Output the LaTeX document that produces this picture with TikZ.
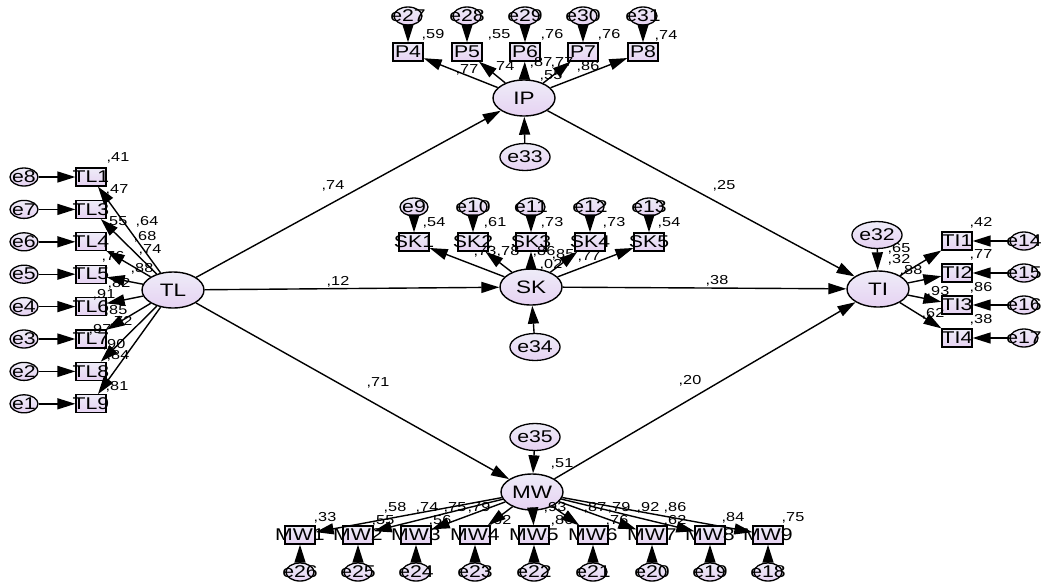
\documentclass[tikz,border=0pt]{standalone}
\usepackage{fontspec}
\newfontfamily\amos[FakeStretch=1.25]{Liberation Sans}
\usetikzlibrary{shapes.geometric,arrows.meta}
\definecolor{lavtop}{RGB}{238,236,248}
\definecolor{lavbot}{RGB}{230,210,242}
\tikzset{
  nodefill/.style={top color=lavtop, bottom color=lavbot, draw=black},
  lat/.style={ellipse, nodefill, line width=1.4pt, minimum width=62pt, minimum height=36pt, inner sep=0pt, font=\amos\fontsize{18}{18}\selectfont},
  err/.style={ellipse, nodefill, line width=1.3pt, minimum width=45pt, minimum height=27pt, inner sep=0pt, font=\amos\fontsize{17}{17}\selectfont},
  smalltxt/.style={font=\amos\fontsize{17}{17}\selectfont, inner sep=0pt},
  serr/.style={ellipse, nodefill, line width=1.3pt, minimum width=28pt, minimum height=18pt, inner sep=0pt, label={[smalltxt]center:#1}},
  obs/.style={rectangle, nodefill, line width=1.3pt, minimum width=30pt, minimum height=18pt, inner sep=0pt, label={[smalltxt]center:#1}},
  lab/.style={font=\amos\fontsize{13}{13}\selectfont, inner sep=0pt},
  arr/.style={-{Triangle[length=18pt,width=11pt]}, line width=1.4pt}
}
\begin{document}
\begin{tikzpicture}[x=1pt,y=-1pt]
\useasboundingbox (0,0) rectangle (1046,582);
\fill[white] (0,0) rectangle (1046,582);

% latent variables
\node[lat] (TL) at (173,290) {TL};
\node[lat] (IP) at (524,98) {IP};
\node[lat] (SK) at (531,287) {SK};
\node[lat] (TI) at (878,289) {TI};
\node[lat] (MW) at (532,492) {MW};

% disturbances
\node[err] (e33) at (525,157) {e33};
\node[err] (e34) at (535,347) {e34};
\node[err] (e32) at (877,235) {e32};
\node[err] (e35) at (535,437) {e35};

% TL indicators
\foreach \n/\y/\e in {TL1/177/e8, TL3/209.4/e7, TL4/241.8/e6, TL5/274.2/e5, TL6/306.6/e4, TL7/339/e3, TL8/371.4/e2, TL9/403.8/e1}{
  \node[obs=\n] (\n) at (91,\y) {};
  \node[serr=\e] (\e) at (24,\y) {};
}
% IP indicators
\foreach \n/\x/\e in {P4/408/e27, P5/467/e28, P6/525/e29, P7/583/e30, P8/643/e31}{
  \node[obs=\n] (\n) at (\x,52) {};
  \node[serr=\e] (\e) at (\x,16) {};
}
% SK indicators
\foreach \n/\x/\e in {SK1/414/e9, SK2/473/e10, SK3/531/e11, SK4/590/e12, SK5/649/e13}{
  \node[obs=\n] (\n) at (\x,242) {};
  \node[serr=\e] (\e) at (\x,207) {};
}
% TI indicators
\foreach \n/\y/\e in {TI1/241/e14, TI2/273/e15, TI3/305/e16, TI4/338/e17}{
  \node[obs=\n] (\n) at (957,\y) {};
  \node[serr=\e] (\e) at (1024,\y) {};
}
% MW indicators
\foreach \n/\x/\e in {MW1/300/e26, MW2/358/e25, MW3/416/e24, MW4/475/e23, MW5/534/e22, MW6/593/e21, MW7/652/e20, MW8/710/e19, MW9/768/e18}{
  \node[obs=\n] (\n) at (\x,535) {};
  \node[serr=\e] (\e) at (\x,572) {};
}

% measurement arrows
\foreach \n/\e in {TL1/e8, TL3/e7, TL4/e6, TL5/e5, TL6/e4, TL7/e3, TL8/e2, TL9/e1}{
  \draw[arr] (TL) -- (\n);
  \draw[arr] (\e) -- (\n);
}
\foreach \n/\e in {P4/e27, P5/e28, P6/e29, P7/e30, P8/e31}{
  \draw[arr] (IP) -- (\n);
  \draw[arr] (\e) -- (\n);
}
\foreach \n/\e in {SK1/e9, SK2/e10, SK3/e11, SK4/e12, SK5/e13}{
  \draw[arr] (SK) -- (\n);
  \draw[arr] (\e) -- (\n);
}
\foreach \n/\e in {TI1/e14, TI2/e15, TI3/e16, TI4/e17}{
  \draw[arr] (TI) -- (\n);
  \draw[arr] (\e) -- (\n);
}
\foreach \n/\e in {MW1/e26, MW2/e25, MW3/e24, MW4/e23, MW5/e22, MW6/e21, MW7/e20, MW8/e19, MW9/e18}{
  \draw[arr] (MW) -- (\n);
  \draw[arr] (\e) -- (\n);
}

% structural arrows
\draw[arr] (TL) -- (IP);
\draw[arr] (TL) -- (SK);
\draw[arr] (TL) -- (MW);
\draw[arr] (IP) -- (TI);
\draw[arr] (SK) -- (TI);
\draw[arr] (MW) -- (TI);
\draw[arr] (e33) -- (IP);
\draw[arr] (e34) -- (SK);
\draw[arr] (e32) -- (TI);
\draw[arr] (e35) -- (MW);

% estimates
\foreach \t/\x/\y [count=\i] in {
  {,74}/333/186, {,12}/338/282, {,71}/378/383, {,25}/724/186, {,38}/717/281, {,20}/690/381,
  {,59}/433/35, {,55}/499/35, {,76}/552/35, {,76}/609/35, {,74}/666/36,
  {,77}/467/70, {,74}/503/67, {,87}/541/63, {,77}/562/63, {,86}/588/67, {,55}/551/76,
  {,54}/434/223, {,61}/495/223, {,73}/552/223, {,73}/614/223, {,54}/669/223,
  {,73}/485/252, {,78}/508/252, {,86}/544/252, {,85}/563/255, {,77}/589/257, {,02}/551/265,
  {,41}/118/158, {,47}/117/190, {,55}/116/222, {,64}/147/222, {,68}/145/237, {,74}/150/250,
  {,76}/113/257, {,88}/142/269, {,82}/119/284, {,91}/104/295, {,85}/116/311, {,72}/121/322,
  {,97}/100/330, {,90}/114/345, {,84}/118/356, {,81}/117/387,
  {,42}/981/223, {,65}/899/249, {,32}/899/260, {,88}/911/271, {,77}/981/255, {,93}/938/292,
  {,86}/981/288, {,62}/933/314, {,38}/981/320,
  {,33}/325/518, {,58}/395/508, {,55}/383/521, {,74}/427/508, {,75}/455/508, {,79}/479/508,
  {,56}/440/521, {,62}/500/521, {,93}/555/508, {,86}/562/521, {,87}/595/508, {,79}/619/508,
  {,76}/617/521, {,92}/648/508, {,86}/675/508, {,62}/675/521, {,84}/733/518, {,75}/793/518,
  {,51}/562/464}{
  \node[lab] (L\i) at (\x,\y) {\t};
}
\end{tikzpicture}
\end{document}
